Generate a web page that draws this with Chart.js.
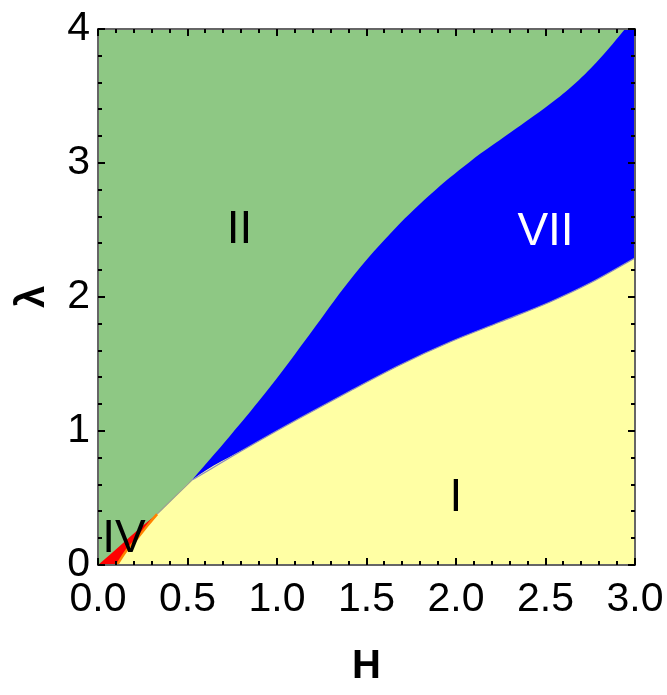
<!DOCTYPE html>
<html><head><meta charset="utf-8">
<script src="https://cdn.jsdelivr.net/npm/chart.js@4"></script>
<style>html,body{margin:0;padding:0;background:#fff}</style>
</head><body>
<canvas id="c" width="667" height="695" style="width:667px;height:695px"></canvas>
<script>
// ---- data ----
const xTickValues = [0, 0.5, 1.0, 1.5, 2.0, 2.5, 3.0];
const yTickValues = [0, 1, 2, 3, 4];
// boundary II / VII (green / blue)
const upperH = [0.525, 0.737, 0.961, 1.184, 1.408, 1.631, 1.855, 2.078, 2.302, 2.525, 2.665, 2.804, 2.944, 3.0];
const upperL = [0.634, 0.963, 1.328, 1.724, 2.127, 2.47, 2.763, 3.01, 3.225, 3.44, 3.593, 3.78, 4.0, 4.1];
// top of region I (yellow): IV/I edge, II/I edge, VII/I edge
const lowerH = [0.106, 0.16, 0.22, 0.28, 0.33, 0.43, 0.525, 0.849, 1.128, 1.408, 1.687, 1.966, 2.246, 2.525, 2.749, 3.0];
const lowerL = [0.0, 0.11, 0.20, 0.30, 0.38, 0.51, 0.634, 0.888, 1.097, 1.299, 1.493, 1.664, 1.813, 1.963, 2.104, 2.291];
// IV / II edge (red / green)
const redH = [0.0, 0.12, 0.235, 0.33];
const redL = [0.0, 0.14, 0.276, 0.38];
// whole frame (region II background)
const topH = [0.0, 3.0];
const topL = [4.0, 4.0];
// region names
const regionNames = ["II", "VII", "I", "IV"];
const regionH = [0.79, 2.5, 2.0, 0.145];
const regionL = [2.5, 2.485, 0.5, 0.19];
const regionColors = ["#000", "#fff", "#000", "#000"];

const pts = (xs, ys) => xs.map((x, i) => ({x: x, y: ys[i]}));
const FONT = "'Liberation Sans', Arial, sans-serif";

const GREEN = "rgb(142,200,132)";
const BLUE = "rgb(0,0,255)";
const YELLOW = "rgb(255,255,164)";
const RED = "rgb(255,0,0)";

const framePlugin = {
  id: "frame",
  afterDatasetsDraw(chart) {
    const {ctx, chartArea: a, scales: {x, y}} = chart;
    ctx.save();
    ctx.font = "46px " + FONT;
    ctx.textAlign = "center";
    ctx.textBaseline = "middle";
    regionNames.forEach((t, i) => {
      ctx.fillStyle = regionColors[i];
      ctx.fillText(t, x.getPixelForValue(regionH[i]), y.getPixelForValue(regionL[i]));
    });
    ctx.strokeStyle = "#666";
    ctx.lineWidth = 2;
    ctx.strokeRect(a.left, a.top, a.right - a.left, a.bottom - a.top);
    ctx.strokeStyle = "#000";
    ctx.lineWidth = 2;
    ctx.beginPath();
    for (let k = 0; k <= 30; k++) {
      const px = Math.round(x.getPixelForValue(k / 10));
      const len = (k % 5 === 0) ? 7 : 4;
      ctx.moveTo(px, a.bottom); ctx.lineTo(px, a.bottom - len);
      ctx.moveTo(px, a.top); ctx.lineTo(px, a.top + len);
    }
    for (let k = 0; k <= 20; k++) {
      const py = Math.round(y.getPixelForValue(k / 5));
      const len = (k % 5 === 0) ? 7 : 4;
      ctx.moveTo(a.left, py); ctx.lineTo(a.left + len, py);
      ctx.moveTo(a.right, py); ctx.lineTo(a.right - len, py);
    }
    ctx.stroke();
    ctx.restore();
  }
};

const noPad = s => { s.paddingLeft = 0; s.paddingRight = 0; s.paddingTop = 0; s.paddingBottom = 0; };

new Chart(document.getElementById("c"), {
  type: "line",
  data: {
    datasets: [
      { // IV / I edge fringe
        data: pts(lowerH.slice(0, 5), lowerL.slice(0, 5)), fill: false,
        borderColor: "rgb(255,130,0)", borderWidth: 2.5,
        cubicInterpolationMode: "monotone", pointRadius: 0
      },
      { // II / I edge
        data: pts(lowerH.slice(4, 7), lowerL.slice(4, 7)), fill: false,
        borderColor: "#9aa090", borderWidth: 1.2,
        cubicInterpolationMode: "monotone", pointRadius: 0
      },
      { // VII / I edge
        data: pts(lowerH.slice(6), lowerL.slice(6)), fill: false,
        borderColor: "#8a8ac0", borderWidth: 1.2,
        cubicInterpolationMode: "monotone", pointRadius: 0
      },
      { // region I
        data: pts(lowerH, lowerL), fill: "origin", backgroundColor: YELLOW,
        borderWidth: 0, cubicInterpolationMode: "monotone", pointRadius: 0
      },
      { // region IV
        data: pts(redH, redL), fill: "origin", backgroundColor: RED,
        borderWidth: 0, cubicInterpolationMode: "monotone", pointRadius: 0
      },
      { // region VII
        data: pts(upperH, upperL), fill: "origin", backgroundColor: BLUE,
        borderWidth: 0, tension: 0.4, pointRadius: 0
      },
      { // region II
        data: pts(topH, topL), fill: "origin", backgroundColor: GREEN,
        borderWidth: 0, pointRadius: 0
      }
    ]
  },
  options: {
    responsive: false,
    animation: false,
    devicePixelRatio: 1,
    layout: { padding: { top: 29, right: 32, left: 0, bottom: 0 } },
    plugins: { legend: { display: false }, tooltip: { enabled: false } },
    scales: {
      x: {
        type: "linear", min: 0, max: 3,
        afterFit: s => { s.height = 130; noPad(s); },
        afterBuildTicks: s => { s.ticks = xTickValues.map(v => ({value: v})); },
        ticks: { callback: v => v.toFixed(1), color: "#000", padding: 10,
                 font: { family: FONT, size: 41 }, maxRotation: 0 },
        grid: { display: false, drawTicks: false },
        border: { display: false },
        title: { display: true, text: "H", color: "#000", padding: { top: 4 },
                 font: { family: FONT, size: 40, weight: "bold" } }
      },
      y: {
        type: "linear", min: 0, max: 4,
        afterFit: s => { s.width = 98; noPad(s); },
        afterBuildTicks: s => { s.ticks = yTickValues.map(v => ({value: v})); },
        ticks: { callback: v => String(v), color: "#000", padding: 8,
                 font: { family: FONT, size: 41 } },
        grid: { display: false, drawTicks: false },
        border: { display: false },
        title: { display: true, text: "λ", color: "#000", padding: { top: 9, bottom: 0 },
                 font: { family: FONT, size: 40, weight: "bold" } }
      }
    }
  },
  plugins: [framePlugin]
});
</script>
</body></html>
